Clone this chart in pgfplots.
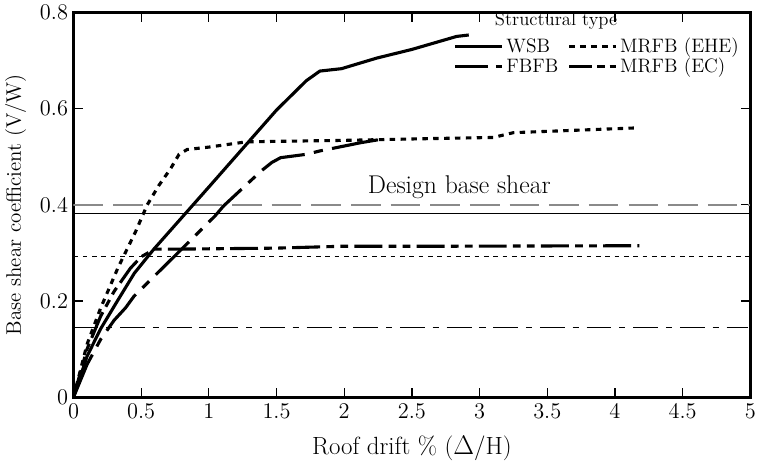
\documentclass[border=0pt]{standalone}
\usepackage{pgfplots}
\pgfplotsset{compat=1.18}
\definecolor{refGray}{HTML}{8A8A8A}
\tikzset{
  curve/.style={line width=2pt, black},
  refline/.style={line width=0.6pt, black}
}
\begin{document}
\begin{tikzpicture}
  \begin{axis}[
    scale only axis,
    width=15.3cm,
    height=8.7cm,
    xmin=0, xmax=5,
    ymin=0, ymax=0.8,
    xtick={0,0.5,...,5},
    ytick={0,0.2,0.4,0.6,0.8},
    tick align=inside,
    major tick length=6pt,
    axis line style={line width=1.6pt},
    tick style={line width=0.8pt, black},
    tick label style={font=\fontsize{13.5}{16}\selectfont},
    xticklabel style={yshift=-1pt},
    xlabel={Roof drift \% ($\Delta$/H)},
    ylabel={Base shear coefficient (V/W)},
    xlabel style={font=\fontsize{16}{19}\selectfont, yshift=-4pt},
    ylabel style={font=\fontsize{13.5}{16}\selectfont, yshift=2pt},
    legend columns=2,
    legend style={
      draw=none, fill=none,
      font=\fontsize{12.5}{14}\selectfont,
      at={(rel axis cs:0.995,0.95)}, anchor=north east,
      /tikz/every even column/.append style={column sep=4pt},
      row sep=-2pt
    },
    legend cell align=left,
    legend image code/.code={\draw[#1] (0cm,0cm) -- (1.05cm,0cm);}
  ]
    % reference levels
    \addplot[forget plot, line width=0.9pt, refGray, dash pattern=on 19pt off 6.5pt]
      coordinates {(0,0.4) (5,0.4)};
    \addplot[forget plot, refline] coordinates {(0,0.381) (5,0.381)};
    \addplot[forget plot, refline, line width=0.5pt, dash pattern=on 3pt off 3pt]
      coordinates {(0,0.292) (5,0.292)};
    \addplot[forget plot, refline, dash pattern=on 16pt off 5pt on 4pt off 5pt]
      coordinates {(0,0.146) (4.98,0.146)};

    % WSB
    \addplot[curve] coordinates {
      (0,0) (0.1,0.085) (0.2,0.142) (0.324,0.2) (0.45,0.258) (0.594,0.308)
      (1.0,0.437) (1.5,0.597) (1.72,0.658) (1.82,0.678) (1.98,0.683)
      (2.24,0.705) (2.5,0.723) (2.83,0.750) (2.92,0.753)
    };
    % MRFB (EHE)
    \addplot[curve, dash pattern=on 3.5pt off 3.5pt,
      legend image post style={dash pattern=on 4pt off 3pt}] coordinates {
      (0,0) (0.1,0.11) (0.2,0.185) (0.33,0.27) (0.46,0.345) (0.545,0.4)
      (0.63,0.44) (0.717,0.475) (0.78,0.505) (0.84,0.515) (1.0,0.52)
      (1.28,0.531) (2.0,0.534) (2.7,0.538) (3.1,0.54) (3.25,0.55) (4.17,0.56)
    };
    % FBFB
    \addplot[curve, dash pattern=on 30pt off 6pt on 6pt off 6pt,
      legend image post style={dash pattern=on 21pt off 5pt on 6pt off 5pt}] coordinates {
      (0,0) (0.1,0.068) (0.2,0.12) (0.3,0.16) (0.385,0.186) (0.447,0.21)
      (0.717,0.285) (1.046,0.377) (1.11,0.398) (1.385,0.47) (1.465,0.488)
      (1.53,0.498) (1.72,0.505) (1.82,0.512) (2.12,0.529) (2.31,0.538)
    };
    % MRFB (EC)
    \addplot[curve, dash pattern=on 18pt off 4pt on 5pt off 4pt on 5pt off 4pt,
      legend image post style={dash pattern=on 15pt off 3pt on 5pt off 3pt on 5pt off 3pt}] coordinates {
      (0,0) (0.1,0.1) (0.2,0.168) (0.3,0.22) (0.42,0.268) (0.5,0.292)
      (0.6,0.308) (0.8,0.308) (1.5,0.31) (2.0,0.314) (2.83,0.314) (4.18,0.315)
    };
    \legend{WSB, MRFB (EHE), FBFB, MRFB (EC)}

    \node[font=\fontsize{12}{14}\selectfont] at (rel axis cs:0.713,0.978) {Structural type};
    \node[font=\fontsize{16.5}{19}\selectfont] at (axis cs:2.85,0.437) {Design base shear};
  \end{axis}
\end{tikzpicture}
\end{document}
